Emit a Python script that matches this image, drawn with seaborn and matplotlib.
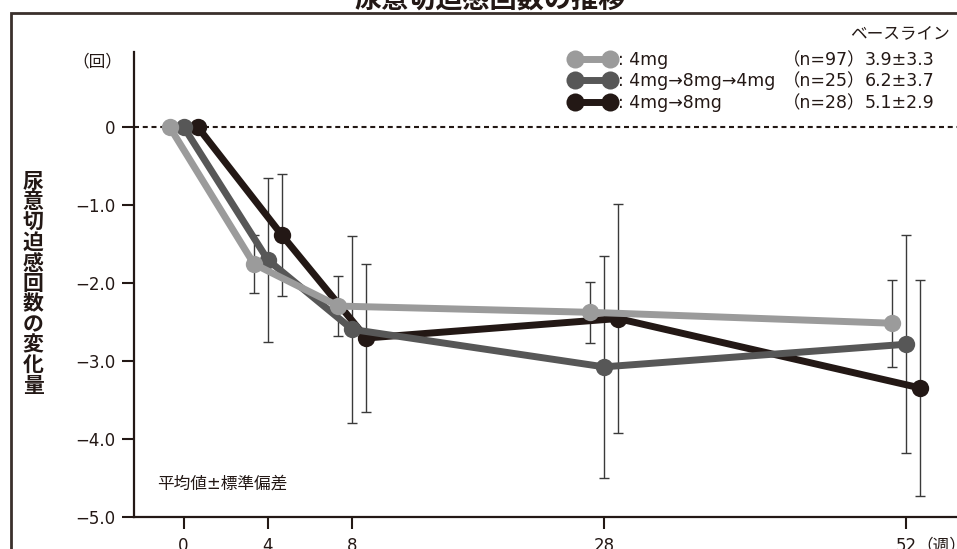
import numpy as np
import pandas as pd
import matplotlib
matplotlib.use('Agg')
import matplotlib.pyplot as plt
import matplotlib.transforms as mtransforms
from matplotlib.lines import Line2D
from matplotlib.patches import Rectangle
import seaborn as sns

# --- data ---
weeks = [0, 4, 8, 28, 52]
groups = ['4mg', '4mg→8mg→4mg', '4mg→8mg']
mean_4 = [0, -1.76, -2.30, -2.38, -2.52]
sd_4 = [0, 0.37, 0.38, 0.39, 0.56]
mean_484 = [0, -1.71, -2.60, -3.08, -2.79]
sd_484 = [0, 1.05, 1.20, 1.42, 1.40]
mean_48 = [0, -1.39, -2.71, -2.46, -3.35]
sd_48 = [0, 0.78, 0.95, 1.47, 1.39]
n_labels = ['（n=97）', '（n=25）', '（n=28）']
baseline = ['3.9±3.3', '6.2±3.7', '5.1±2.9']
yticks = [0, -1, -2, -3, -4, -5]
ytick_labels = ['0', '−1.0', '−2.0', '−3.0', '−4.0', '−5.0']

means = [mean_4, mean_484, mean_48]
sds = [sd_4, sd_484, sd_48]
colors = ['#9b9b9b', '#575757', '#231815']
offsets_px = [-14, 0, 14]
zorders = [4, 3, 2]
ink = '#231815'
fs = 12

sns.set_theme(style='white')
plt.rcParams['font.family'] = ['DejaVu Sans', 'Noto Sans CJK JP']
plt.rcParams['axes.unicode_minus'] = True

fig = plt.figure(figsize=(9.57, 5.49), dpi=100)
ax = fig.add_axes([134 / 957, 32.5 / 549, 1 - 134 / 957, 464.5 / 549])

for g, m, s, c, off, z in zip(groups, means, sds, colors, offsets_px, zorders):
    df = pd.DataFrame({'week': weeks, 'mean': m, 'sd': s})
    trans = ax.transData + mtransforms.ScaledTranslation(off / 100, 0, fig.dpi_scale_trans)
    sns.lineplot(data=df, x='week', y='mean', ax=ax, color=c, lw=5, marker='o',
                 markersize=12.5, markeredgewidth=0, errorbar=None, legend=False,
                 transform=trans, zorder=z)
    d = df[df['sd'] > 0]
    ax.errorbar(d['week'], d['mean'], yerr=d['sd'], fmt='none', ecolor='#3a3a3a',
                elinewidth=1, capsize=3.5, capthick=1, transform=trans, zorder=1)

ax.axhline(0, color=ink, lw=1.5, ls=(0, (2.4, 1.8)), zorder=0.5)

# compressed scale after week 8
r = 0.5964
def fwd(x):
    x = np.asarray(x, float)
    return np.where(x <= 8, x, 8 + (x - 8) * r)
def inv(y):
    y = np.asarray(y, float)
    return np.where(y <= 8, y, 8 + (y - 8) / r)
ax.set_xscale('function', functions=(fwd, inv))
ax.set_xlim(-2.35, 56.06)
ax.set_ylim(-5, 0.96)
ax.set_xticks(weeks)
ax.set_xticklabels([str(w) for w in weeks])
ax.set_yticks(yticks)
ax.set_yticklabels(ytick_labels)
ax.set_xlabel('')
ax.set_ylabel('')

for side in ['top', 'right']:
    ax.spines[side].set_visible(False)
for side in ['left', 'bottom']:
    ax.spines[side].set_color(ink)
    ax.spines[side].set_linewidth(1.6)
ax.tick_params(axis='both', direction='out', length=8.5, width=1.5, color=ink,
               labelsize=fs, labelcolor=ink, bottom=True, left=True)
ax.tick_params(axis='y', pad=5)
ax.tick_params(axis='x', pad=6)
ax.grid(False)
ax.patch.set_alpha(0)

# unit labels
ax.annotate('（週）', xy=(1, 0.5), xycoords=ax.get_xticklabels()[-1], xytext=(0, 0),
            textcoords='offset points', ha='left', va='center', fontsize=fs, color=ink)
fig.text(97 / 957, 1 - 61 / 549, '（回）', ha='center', va='center', fontsize=fs, color=ink)
fig.text(157 / 957, 1 - 484 / 549, '平均値±標準偏差', ha='left', va='center', fontsize=fs, color=ink)

# vertical y label
fig.text(33 / 957, 1 - 284 / 549, '\n'.join('尿意切迫感回数の変化量'), ha='center', va='center',
         fontsize=15, fontweight='bold', color=ink, linespacing=1.03)

# title (clipped at top) and frame
fig.text(490 / 957, 1 - 8 / 549, '尿意切迫感回数の推移', ha='center', va='baseline',
         fontsize=19.5, fontweight='bold', color=ink)
fig.add_artist(Rectangle((11 / 957, -0.5), 2, 1.5 - 13 / 549, transform=fig.transFigure,
                         fill=False, edgecolor='#3a302c', lw=2))

# legend
handles = [Line2D([0], [0], color=c, lw=5, marker='o', markersize=13, markeredgewidth=0)
           for c in colors]
leg = ax.legend(handles, [': ' + g for g in groups], loc='upper left',
                bbox_to_anchor=(570 / 957, 1 - 51 / 549), bbox_transform=fig.transFigure,
                frameon=False, numpoints=2, handlelength=2.61, handletextpad=0.15,
                borderpad=0, borderaxespad=0, labelspacing=0.2, fontsize=12.5)
for t in leg.get_texts():
    t.set_color(ink)

fig.text(950 / 957, 1 - 33 / 549, 'ベースライン', ha='right', va='center', fontsize=fs, color=ink)
fig.canvas.draw()
renderer = fig.canvas.get_renderer()
for t, nl, bl in zip(leg.get_texts(), n_labels, baseline):
    bb = t.get_window_extent(renderer)
    yc = (bb.y0 + bb.y1) / 2 / fig.bbox.height
    fig.text(783 / 957, yc, nl, ha='left', va='center', fontsize=12.5, color=ink)
    fig.text(865 / 957, yc, bl, ha='left', va='center', fontsize=12.5, color=ink)

fig.savefig('out.png', dpi=100)
